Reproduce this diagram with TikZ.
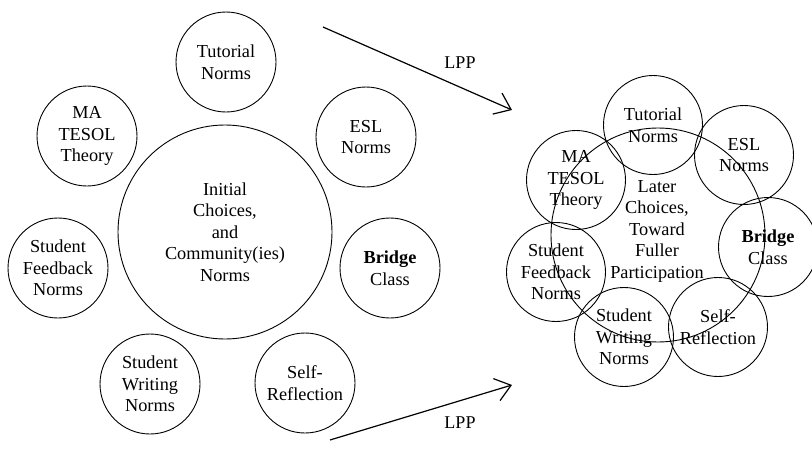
\documentclass[tikz,border=0pt]{standalone}
\usepackage{fontspec}
\setmainfont{Liberation Serif}
\usetikzlibrary{arrows.meta}
\begin{document}
\begin{tikzpicture}[x=1pt,y=-1pt,
  ring/.style={circle,draw,line width=0.9pt,minimum size=#1,inner sep=0pt,
    align=center,font=\fontsize{18.3}{21.5}\selectfont},
  ring/.default=100pt,
  lpplabel/.style={font=\fontsize{18}{21}\selectfont,inner sep=0pt},
  lpparrow/.style={line width=1.2pt,-{Straight Barb[length=15pt,width=23pt,line width=1.2pt]}}]
\useasboundingbox (0,0) rectangle (812,450);
% left cluster
\node[ring=214pt] (init) at (225,232) {Initial\\Choices,\\and\\Community(ies)\\Norms};
\node[ring] (tut) at (226,62) {Tutorial\\Norms};
\node[ring] (ma) at (87,136) {MA\\TESOL\\Theory};
\node[ring] (esl) at (366,137) {ESL\\Norms};
\node[ring] (sfb) at (58,268) {Student\\Feedback\\Norms};
\node[ring] (bridge) at (390,268) {\textbf{Bridge}\\Class};
\node[ring] (swn) at (150,384) {Student\\Writing\\Norms};
\node[ring] (self) at (305,383) {Self-\\Reflection};
% right cluster
\node[ring=214pt] (later) at (658,235) {};
\node[align=center,font=\fontsize{18.3}{21.5}\selectfont,inner sep=0pt] (latertxt) at (657,231) {Later\\Choices,\\Toward\\Fuller\\Participation};
\node[ring=99pt] (tut2) at (653,125) {Tutorial\\Norms};
\node[ring=99pt] (esl2) at (744,155) {ESL\\Norms};
\node[ring=99pt] (ma2) at (576,180) {MA\\TESOL\\Theory};
\node[ring=99pt] (bridge2) at (768,247) {\textbf{Bridge}\\Class};
\node[ring=99pt] (sfb2) at (556,272) {Student\\Feedback\\Norms};
\node[ring=99pt] (swn2) at (624,337) {Student\\Writing\\Norms};
\node[ring=99pt] (self2) at (718,327) {Self-\\Reflection};
% arrows
\coordinate (a1s) at (323,27);
\coordinate (a1e) at (512,110);
\coordinate (a2s) at (330,440);
\coordinate (a2e) at (512,385);
\draw[lpparrow] (a1s) -- (a1e);
\draw[lpparrow] (a2s) -- (a2e);
\node[lpplabel] (lpp1) at (460,63) {LPP};
\node[lpplabel] (lpp2) at (460,423) {LPP};
\end{tikzpicture}
\end{document}
